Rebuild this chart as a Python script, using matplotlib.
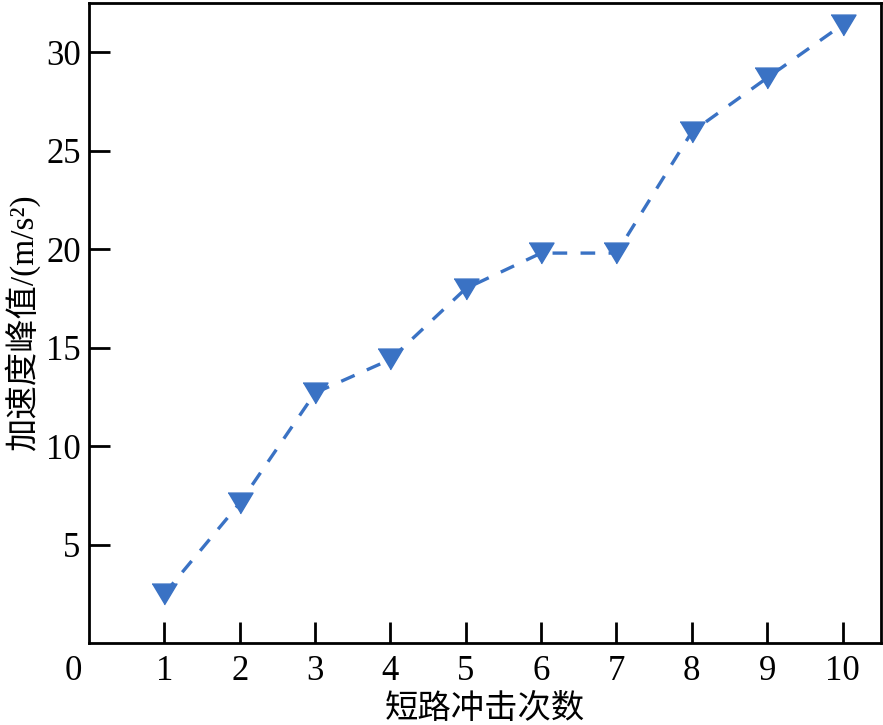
import matplotlib
matplotlib.use("Agg")
import matplotlib.pyplot as plt

impacts = [1, 2, 3, 4, 5, 6, 7, 8, 9, 10]
peak_accel = [2.5, 7.1, 12.7, 14.4, 18.0, 19.8, 19.8, 25.95, 28.7, 31.4]
xticks = [1, 2, 3, 4, 5, 6, 7, 8, 9, 10]
yticks = [5, 10, 15, 20, 25, 30]

fams = ['Liberation Serif', 'Noto Sans CJK SC', 'DejaVu Sans']
plt.rcParams['font.family'] = fams

fig = plt.figure(figsize=(8.83, 7.25), dpi=100)
ax = fig.add_axes([89/883, 1 - 643/725, (881-89)/883, (643-3)/725])

blue = '#3a72c4'
tri = [(-1.2, 1.0), (1.2, 1.0), (0.0, -1.0)]
ax.plot(impacts, peak_accel, linestyle=(0, (4.4, 4.0)), color=blue, linewidth=2.4,
        marker=tri, markersize=18, markerfacecolor=blue, markeredgecolor=blue)

ax.set_xlim(0, 10.51)
ax.set_ylim(0, 32.5)
ax.set_xticks(xticks)
ax.set_yticks(yticks)
ax.tick_params(direction='in', length=15, width=2, labelsize=25, top=False, right=False)
ax.tick_params(axis='x', pad=9)
ax.tick_params(axis='y', pad=6)
for s in ax.spines.values():
    s.set_linewidth(2)
for lab in ax.get_xticklabels() + ax.get_yticklabels():
    lab.set_fontfamily('Liberation Serif')

ax.text(-16/792, -12/640, '0', transform=ax.transAxes, ha='center', va='top',
        fontsize=25, family='Liberation Serif')

ax.set_xlabel('短路冲击次数', fontsize=24, family=['Noto Sans CJK SC'], labelpad=2)
ax.set_ylabel('加速度峰值/(m/s²)', fontsize=24, family=fams, labelpad=4)

fig.savefig('out.png', dpi=100)
